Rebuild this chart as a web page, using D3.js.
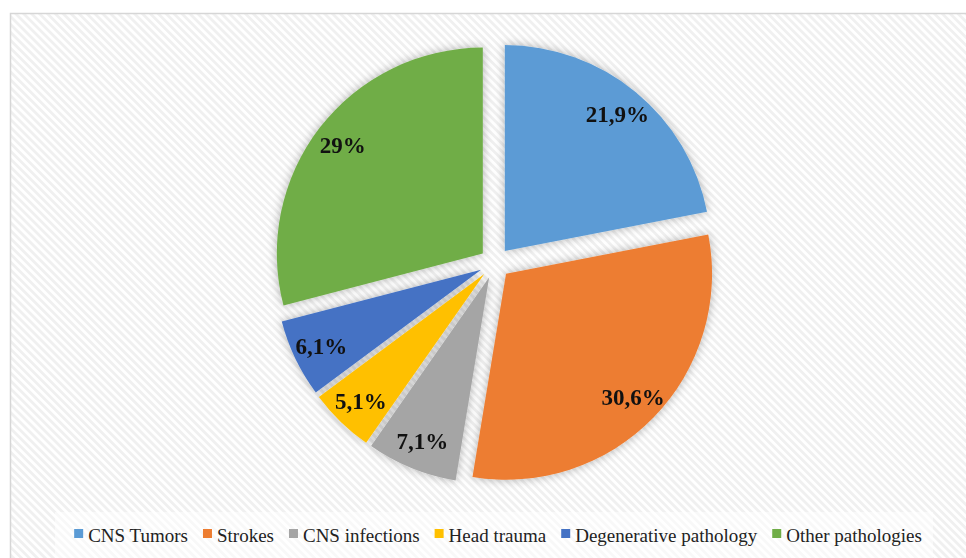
<!DOCTYPE html>
<html>
<head>
<meta charset="utf-8">
<script src="https://cdn.jsdelivr.net/npm/d3@7"></script>
<style>
  html, body { margin: 0; padding: 0; background: #fff; }
  svg { display: block; }
</style>
</head>
<body>
<svg id="chart" width="966" height="558"></svg>
<script>
// Share of cases by pathology group (%)
const categories = ["CNS Tumors", "Strokes", "CNS infections", "Head trauma", "Degenerative pathology", "Other pathologies"];
const values = [21.9, 30.6, 7.1, 5.1, 6.1, 29];
const valueLabels = ["21,9%", "30,6%", "7,1%", "5,1%", "6,1%", "29%"];
const colors = ["#5B9BD5", "#ED7D31", "#A5A5A5", "#FFC000", "#4472C4", "#70AD47"];

const W = 966, H = 558;
const svg = d3.select("#chart");
const defs = svg.append("defs");

// Diagonal hatch for the chart area
const pat = defs.append("pattern")
  .attr("id", "hatch")
  .attr("patternUnits", "userSpaceOnUse")
  .attr("width", 5.6).attr("height", 5.6)
  .attr("patternTransform", "rotate(-45)");
pat.append("rect").attr("width", 5.6).attr("height", 5.6).attr("fill", "#ffffff");
pat.append("rect").attr("width", 2.8).attr("height", 5.6).attr("fill", "#f0f0f0");

// Soft shadow around the slices
const f = defs.append("filter").attr("id", "glow")
  .attr("x", "-30%").attr("y", "-30%").attr("width", "160%").attr("height", "160%");
f.append("feDropShadow")
  .attr("dx", 0).attr("dy", 0).attr("stdDeviation", 5)
  .attr("flood-color", "#000").attr("flood-opacity", 0.3);

// Chart frame
svg.append("rect")
  .attr("x", 10.5).attr("y", 13.5)
  .attr("width", W + 20).attr("height", H + 20)
  .attr("fill", "url(#hatch)")
  .attr("stroke", "#d6d6d6").attr("stroke-width", 1.5);

// Pie
const cx = 495, cy = 263, R = 206, explode = 15.4;
const pie = d3.pie().sort(null).value(d => d.value);
const arcs = pie(categories.map((c, i) => ({ name: c, value: values[i], label: valueLabels[i], color: colors[i] })));
const arc = d3.arc().innerRadius(0).outerRadius(R);
const labelArc = d3.arc().innerRadius(R * 0.86).outerRadius(R * 0.86);

function shift(d) {
  const mid = (d.startAngle + d.endAngle) / 2;
  return [explode * Math.sin(mid), -explode * Math.cos(mid)];
}

const g = svg.append("g").attr("transform", `translate(${cx},${cy})`);

g.append("g").attr("filter", "url(#glow)")
  .selectAll("path")
  .data(arcs)
  .join("path")
  .attr("transform", d => { const [dx, dy] = shift(d); return `translate(${dx},${dy})`; })
  .attr("d", arc)
  .attr("fill", d => d.data.color);

g.append("g")
  .selectAll("text")
  .data(arcs)
  .join("text")
  .attr("transform", d => {
    const [dx, dy] = shift(d);
    const [lx, ly] = labelArc.centroid(d);
    return `translate(${lx + dx},${ly + dy})`;
  })
  .attr("text-anchor", "middle")
  .attr("dy", "0.35em")
  .attr("font-family", "'Liberation Serif', 'Times New Roman', serif")
  .attr("font-weight", "bold")
  .attr("font-size", 23)
  .attr("fill", "#111")
  .text(d => d.data.label);

// Legend
svg.append("rect")
  .attr("x", 55).attr("y", 512).attr("width", 878).attr("height", 50)
  .attr("fill", "#fff").attr("opacity", 0.55);

const legend = svg.append("g");
const items = legend.selectAll("g")
  .data(categories)
  .join("g");
items.append("rect")
  .attr("width", 9).attr("height", 9)
  .attr("y", -13)
  .attr("fill", (d, i) => colors[i]);
items.append("text")
  .attr("x", 14)
  .attr("font-family", "'Liberation Serif', 'Times New Roman', serif")
  .attr("font-size", 19)
  .attr("fill", "#222")
  .text(d => d);

const gap = 15;
let x = 0;
const offsets = [];
items.each(function () {
  offsets.push(x);
  const w = 14 + d3.select(this).select("text").node().getComputedTextLength();
  x += w + gap;
});
const totalW = x - gap;
const startX = 498 - totalW / 2;
items.attr("transform", (d, i) => `translate(${startX + offsets[i]},542)`);
</script>
</body>
</html>
